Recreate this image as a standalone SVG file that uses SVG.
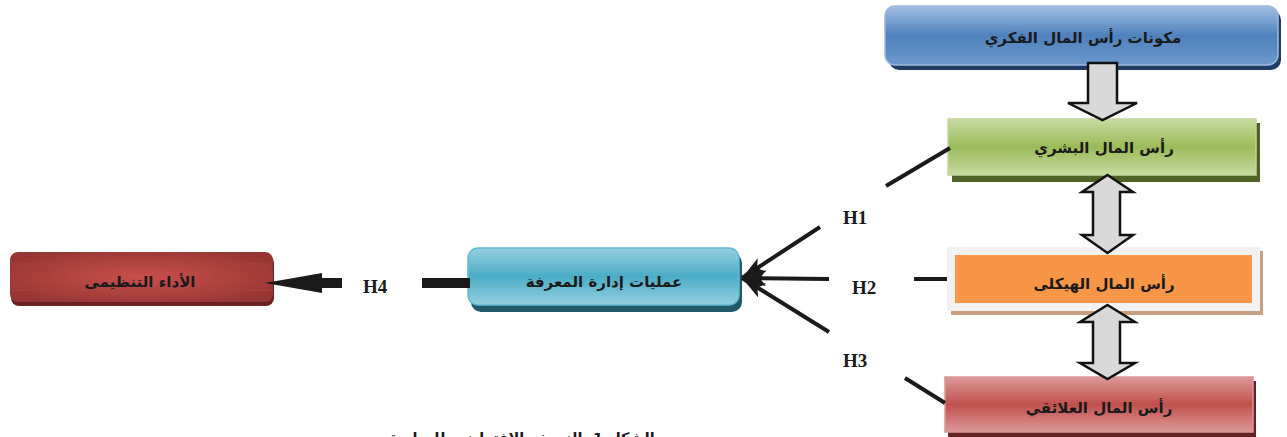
<svg xmlns="http://www.w3.org/2000/svg" width="1287" height="437" viewBox="0 0 1287 437">
<style>
.ar{font-family:"DejaVu Sans","Noto Sans",sans-serif;font-weight:bold;fill:#1a1a1a;text-anchor:middle;direction:rtl}
.h{font-family:"Liberation Serif",serif;font-weight:bold;font-size:19px;fill:#1a1a1a}
.ln{stroke:#1a1a1a;stroke-width:4;fill:none}
.big{fill:#d9d9d9;stroke:#111;stroke-width:2.5;stroke-linejoin:miter}
</style>
<defs>
<linearGradient id="gBlue" x1="0" y1="0" x2="0" y2="1">
<stop offset="0" stop-color="#a3bfe2"/><stop offset="0.5" stop-color="#4f81bd"/><stop offset="1" stop-color="#6d98cc"/>
</linearGradient>
<linearGradient id="gGreen" x1="0" y1="0" x2="0" y2="1">
<stop offset="0" stop-color="#c7dba1"/><stop offset="0.5" stop-color="#9bbb59"/><stop offset="1" stop-color="#c7dba1"/>
</linearGradient>
<linearGradient id="gRed" x1="0" y1="0" x2="0" y2="1">
<stop offset="0" stop-color="#dc9a98"/><stop offset="0.5" stop-color="#c0504d"/><stop offset="1" stop-color="#dc9a98"/>
</linearGradient>
<linearGradient id="gTeal" x1="0" y1="0" x2="0" y2="1">
<stop offset="0" stop-color="#95d0df"/><stop offset="0.5" stop-color="#4bacc6"/><stop offset="1" stop-color="#95d0df"/>
</linearGradient>
<radialGradient id="gDark" cx="0.5" cy="0.5" r="0.6">
<stop offset="0" stop-color="#c9504d"/><stop offset="1" stop-color="#963634"/>
</radialGradient>
<marker id="ah" markerUnits="userSpaceOnUse" markerWidth="26" markerHeight="16" refX="24" refY="8" orient="auto">
<path d="M0,0 L24,8 L0,16 L6,8 Z" fill="#1a1a1a"/>
</marker>
</defs>

<g id="node-ic">
<rect x="889" y="10" width="392" height="60" rx="10" fill="#1f3c64"/>
<rect x="885" y="6" width="393" height="59" rx="10" fill="url(#gBlue)" stroke="#9cb8dd" stroke-width="1.5"/>
<text class="ar" x="1083" y="43" font-size="15">مكونات رأس المال الفكري</text>
</g>

<g id="node-human">
<rect x="952" y="123" width="308" height="59" fill="#4f6228"/>
<rect x="948" y="119" width="308" height="56" fill="url(#gGreen)" stroke="#c3d69b" stroke-width="1.5"/>
<text class="ar" x="1104" y="153" font-size="15">رأس المال البشري</text>
</g>

<g id="node-structural">
<rect x="951" y="251" width="312" height="64" fill="#c9a07f"/>
<rect x="947" y="247" width="313" height="64" fill="#f2f2f2"/>
<rect x="955" y="255" width="297" height="48" fill="#f79646"/>
<text class="ar" x="1104" y="289" font-size="15">رأس المال الهيكلى</text>
</g>

<g id="node-relational">
<rect x="948" y="381" width="308" height="60" fill="#632523"/>
<rect x="945" y="377" width="308" height="55" fill="url(#gRed)" stroke="#d99694" stroke-width="1.5"/>
<text class="ar" x="1099" y="413" font-size="15">رأس المال العلائقي</text>
</g>

<g id="node-km">
<rect x="471" y="253" width="271" height="59" rx="10" fill="#215968"/>
<rect x="468" y="248" width="271" height="57" rx="10" fill="url(#gTeal)" stroke="#5fbad2" stroke-width="1.5"/>
<text class="ar" x="604" y="287" font-size="15">عمليات إدارة المعرفة</text>
</g>

<g id="node-perf">
<rect x="11" y="255" width="263" height="51" rx="8" fill="#6b2120"/>
<rect x="10" y="252" width="263" height="50" rx="8" fill="url(#gDark)"/>
<line x1="12" y1="264" x2="271" y2="264" stroke="#a84846" stroke-width="0.8"/>
<line x1="12" y1="290" x2="271" y2="290" stroke="#a84846" stroke-width="0.8"/>
<text class="ar" x="140" y="287" font-size="15">الأداء التنظيمى</text>
</g>

<g id="connectors">
<polygon class="big" points="1088,63 1117,63 1117,103 1137,103 1102.5,120 1068,103 1088,103"/>
<polygon class="big" points="1107.5,175 1133,192 1120,192 1120,235 1133,235 1107.5,253 1082,235 1093,235 1093,192 1082,192"/>
<polygon class="big" points="1107.5,305 1135,322 1120,322 1120,363 1135,363 1107.5,379 1080,363 1093,363 1093,322 1080,322"/>

<line class="ln" x1="886" y1="186" x2="950" y2="148"/>
<line class="ln" x1="820" y1="227" x2="742" y2="278" marker-end="url(#ah)"/>
<line class="ln" x1="914" y1="279" x2="947" y2="279"/>
<line class="ln" x1="829" y1="279" x2="742" y2="278" marker-end="url(#ah)"/>
<line class="ln" x1="905" y1="378" x2="945" y2="403"/>
<line class="ln" x1="829" y1="332" x2="742" y2="278" marker-end="url(#ah)"/>

<rect x="422" y="278" width="48" height="10" fill="#1a1a1a"/>
<polygon points="342,278 342,288 322,288 322,293 265,283 322,273 322,278" fill="#1a1a1a"/>
</g>

<text class="h" x="843" y="224">H1</text>
<text class="h" x="852" y="294">H2</text>
<text class="h" x="843" y="367">H3</text>
<text class="h" x="363" y="293">H4</text>

<text class="ar" x="522" y="443" font-size="14.5">الشكل 1. النموذج الافتراضي للدراسة</text>
</svg>
